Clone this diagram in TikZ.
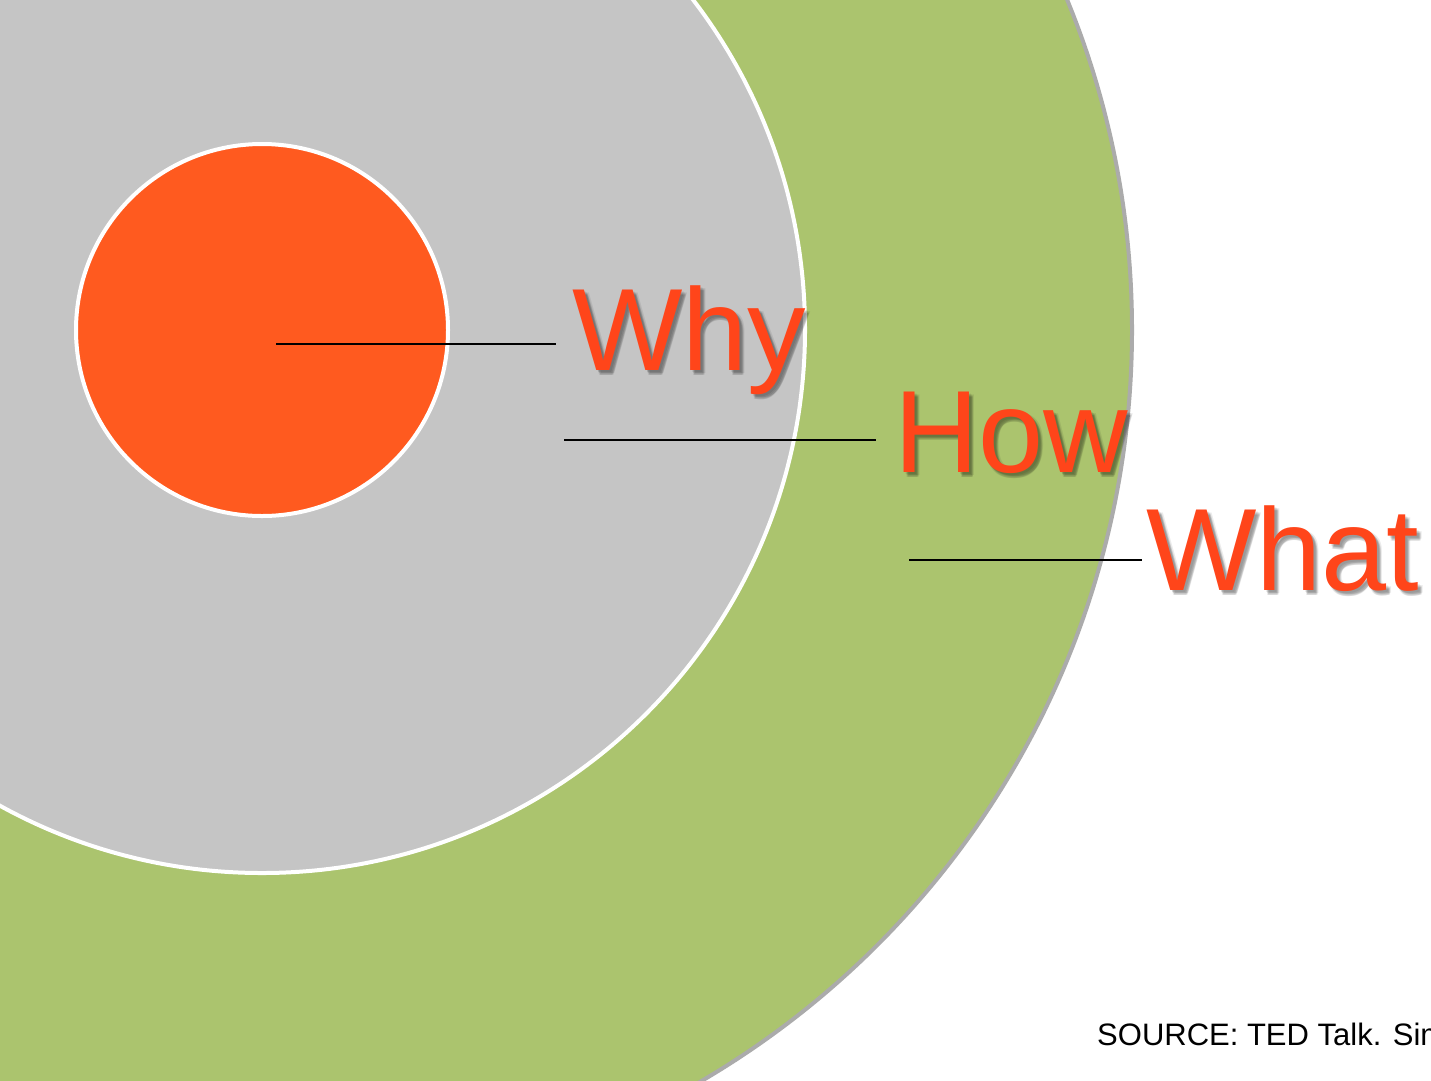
\documentclass[tikz,border=0pt]{standalone}
\usepackage{fontspec}
\setmainfont{Liberation Sans}
\begin{document}
\definecolor{coreorange}{HTML}{FF5A1F}
\definecolor{labelred}{HTML}{FF451A}
\definecolor{midgray}{HTML}{C5C5C5}
\definecolor{outergreen}{HTML}{ABC46E}
\definecolor{rimgray}{HTML}{ABABAB}
\begin{tikzpicture}[x=1pt,y=-1pt,
  ring/.style={line width=4pt},
  leader/.style={draw=black,line width=1.6pt},
  bigword/.style={inner sep=0pt,anchor=base west,text=labelred,
    font=\fontsize{117}{117}\selectfont},
  shadowword/.style={inner sep=0pt,anchor=base west,text=black,opacity=0.08,
    font=\fontsize{117}{117}\selectfont},
  note/.style={inner sep=0pt,anchor=base west,text=black,
    font=\fontsize{31}{31}\selectfont}]
\useasboundingbox (0,0) rectangle (1431,1080);
\clip (0,0) rectangle (1431,1080);
\fill[white] (0,0) rectangle (1431,1080);
% three nested circles
\coordinate (c) at (262,330);
\draw[ring,draw=rimgray,fill=outergreen] (c) circle[radius=870];
\draw[ring,draw=white,fill=midgray] (c) circle[radius=543];
\draw[ring,draw=white,fill=coreorange] (c) circle[radius=186];
% leader lines
\coordinate (whyA) at (276,344);
\coordinate (whyB) at (556,344);
\coordinate (howA) at (564,440);
\coordinate (howB) at (876,440);
\coordinate (whatA) at (909,560);
\coordinate (whatB) at (1142,560);
\draw[leader] (whyA) -- (whyB);
\draw[leader] (howA) -- (howB);
\draw[leader] (whatA) -- (whatB);
% soft drop shadows behind the words
\foreach \dx/\dy in {2/2,3/3,4/4,3/5,5/3,4/5} {
  \node[shadowword] at (572+\dx,370+\dy) {Why};
  \node[shadowword] at (894+\dx,472+\dy) {How};
  \node[shadowword] at (1146+\dx,590+\dy) {What};
}
% words
\node[bigword] (why) at (572,370) {Why};
\node[bigword] (how) at (894,472) {How};
\node[bigword] (what) at (1146,590) {What};
\node[note] (src) at (1097,1045) {SOURCE: TED Talk. Simon Sinek};
\end{tikzpicture}
\end{document}
